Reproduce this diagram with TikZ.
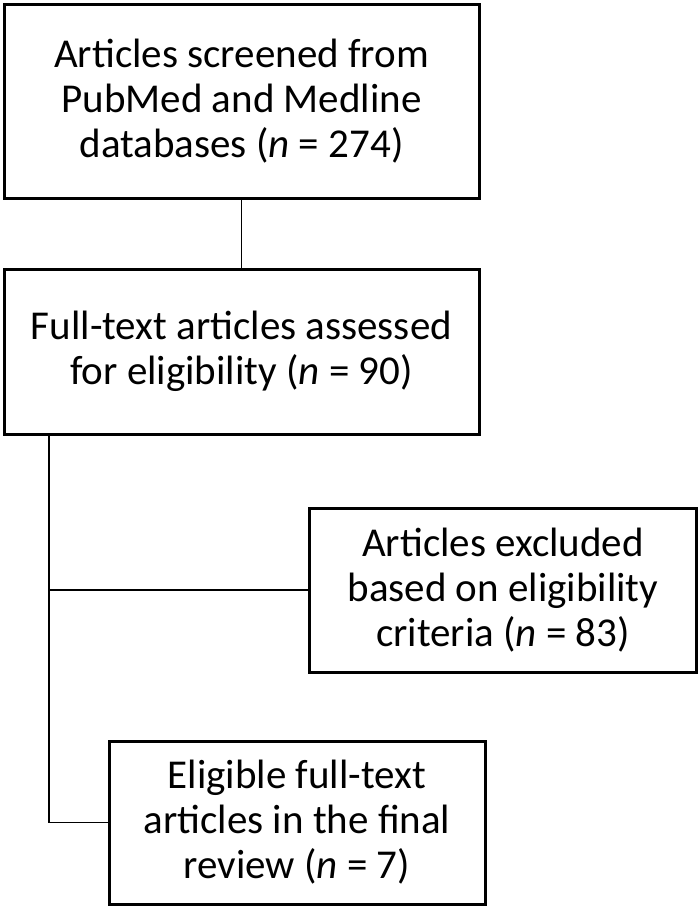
\documentclass[tikz,border=0pt]{standalone}
\usepackage{fontspec}
\setmainfont{Carlito}
\usetikzlibrary{positioning}

\begin{document}
\begin{tikzpicture}[x=1pt, y=-1pt,
  caja/.style={rectangle, draw, line width=3pt, align=center,
    inner sep=0pt, font=\fontsize{41}{45}\selectfont},
  enlace/.style={line width=1.5pt}
]
\useasboundingbox (0,0) rectangle (700,908);
\node[caja, minimum width=475pt, minimum height=194pt] (cribado) at (241.5,101)
  {Articles screened from\\PubMed and Medline\\databases (\textit{n} = 274)};
\node[caja, minimum width=475pt, minimum height=165pt] (evaluados) at (241.5,351.5)
  {Full-text articles assessed\\for eligibility (\textit{n} = 90)};
\node[caja, minimum width=387pt, minimum height=164pt] (excluidos) at (503,590)
  {Articles excluded\\based on eligibility\\criteria (\textit{n} = 83)};
\node[caja, minimum width=376pt, minimum height=163pt] (finales) at (297,822.5)
  {Eligible full-text\\articles in the final\\review (\textit{n} = 7)};
\coordinate (esquina) at (49,0);
% conectores
\draw[enlace] (cribado.south) -- (evaluados.north);
\draw[enlace] (evaluados.south -| esquina) |- (finales.west);
\draw[enlace] (esquina |- excluidos.west) -- (excluidos.west);
\end{tikzpicture}
\end{document}
